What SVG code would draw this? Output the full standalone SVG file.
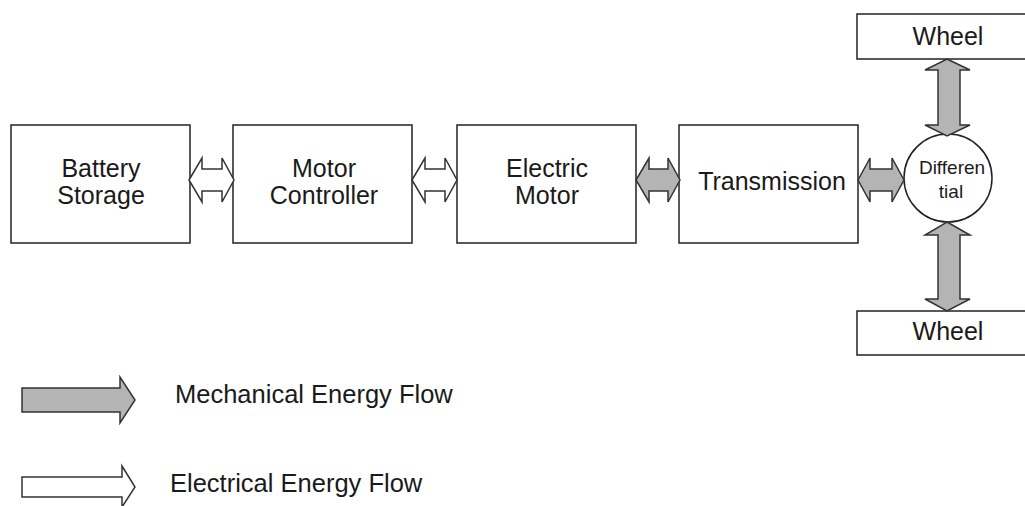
<svg xmlns="http://www.w3.org/2000/svg" width="1025" height="506" viewBox="0 0 1025 506">
<style>
.box{fill:#fff;stroke:#222;stroke-width:1.5}
.t{font-family:"Liberation Sans",Arial,sans-serif;font-size:25px;fill:#1a1a1a;text-anchor:middle}
.ts{font-family:"Liberation Sans",Arial,sans-serif;font-size:19px;fill:#1a1a1a;text-anchor:middle}
.tl{font-family:"Liberation Sans",Arial,sans-serif;font-size:25.5px;fill:#1a1a1a}
.mech{fill:#b4b4b4;stroke:#333;stroke-width:1.5;stroke-linejoin:miter}
.elec{fill:#fff;stroke:#333;stroke-width:1.5}
</style>
<rect width="1025" height="506" fill="#fff"/>
<g id="battery"><rect class="box" x="11" y="125" width="179" height="118"/><text class="t" x="101" y="177">Battery</text><text class="t" x="101" y="204">Storage</text></g>
<g id="controller"><rect class="box" x="233" y="125" width="179" height="118"/><text class="t" x="324" y="177">Motor</text><text class="t" x="324" y="204">Controller</text></g>
<g id="motor"><rect class="box" x="457" y="125" width="179" height="118"/><text class="t" x="547" y="177">Electric</text><text class="t" x="547" y="204">Motor</text></g>
<g id="transmission"><rect class="box" x="679" y="125" width="179" height="118"/><text class="t" x="772" y="190">Transmission</text></g>
<g id="wheel-top"><rect class="box" x="857" y="14" width="175" height="45"/><text class="t" x="948" y="45">Wheel</text></g>
<g id="wheel-bottom"><rect class="box" x="857" y="311" width="175" height="44"/><text class="t" x="948" y="340">Wheel</text></g>
<g id="differential"><circle class="box" cx="948" cy="178" r="44"/><text class="ts" x="952" y="174">Differen</text><text class="ts" x="951" y="198">tial</text></g>
<g id="connectors">
<polygon class="elec" points="189,180 202,158 202,169 222,169 222,158 234,180 222,202 222,191 202,191 202,202"/>
<polygon class="elec" points="412,180 425,158 425,169 445,169 445,158 457,180 445,202 445,191 425,191 425,202"/>
<polygon class="mech" points="636,180 649,158 649,169 668,169 668,158 680,180 668,202 668,191 649,191 649,202"/>
<polygon class="mech" points="858,180 870,158 870,169 892,169 892,158 904,180 892,202 892,191 870,191 870,202"/>
<polygon class="mech" points="947,59 970,70 960,70 960,125 970,125 947,136 925,125 938,125 938,70 925,70"/>
<polygon class="mech" points="947,222 970,235 960,235 960,299 970,299 947,311 925,299 938,299 938,235 925,235"/>
</g>
<g id="legend">
<polygon class="mech" points="22,388 120,388 120,377 135,400 120,423 120,412 22,412"/>
<text class="tl" x="175" y="403">Mechanical Energy Flow</text>
<polygon class="elec" points="22,477 122,477 122,466 135,487 122,507 122,497 22,497"/>
<text class="tl" x="170" y="492">Electrical Energy Flow</text>
</g>
</svg>
